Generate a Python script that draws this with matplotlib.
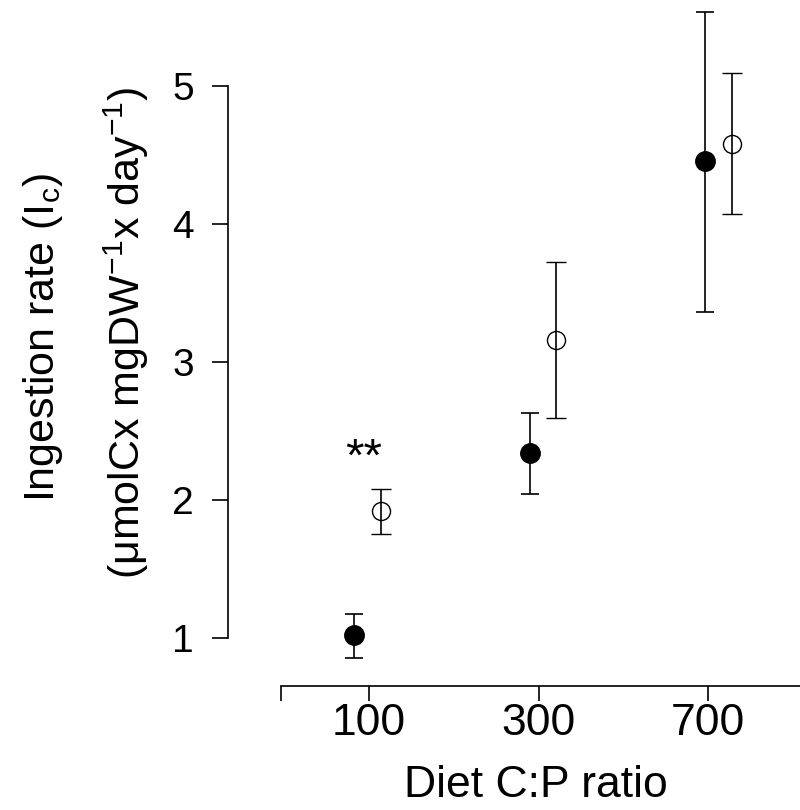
import matplotlib
matplotlib.use('Agg')
from matplotlib import pyplot as plt

plt.rcParams['font.family'] = ['Liberation Sans', 'DejaVu Sans']
plt.rcParams['mathtext.fontset'] = 'custom'
plt.rcParams['mathtext.rm'] = 'Liberation Sans'
plt.rcParams['mathtext.it'] = 'Liberation Sans'

diets = ['100', '300', '700']
# x positions of the two treatments around each diet
x_filled = [0.91, 1.95, 2.98]
x_open = [1.07, 2.10, 3.14]
y_filled = [1.02, 2.34, 4.45]
lo_filled = [0.85, 2.04, 3.36]
hi_filled = [1.17, 2.63, 5.53]
y_open = [1.92, 3.16, 4.58]
lo_open = [1.75, 2.59, 4.07]
hi_open = [2.08, 3.72, 5.09]

fig = plt.figure(figsize=(8, 8.1), dpi=100)
ax = fig.add_axes([228/800, 124/810, 1 - 228/800, 686/810])

err_f = [[y - l for y, l in zip(y_filled, lo_filled)], [h - y for y, h in zip(y_filled, hi_filled)]]
err_o = [[y - l for y, l in zip(y_open, lo_open)], [h - y for y, h in zip(y_open, hi_open)]]

ax.errorbar(x_filled, y_filled, yerr=err_f, fmt='o', color='black', ms=14,
            ecolor='black', elinewidth=1.2, capsize=6.5, capthick=1.2)
ax.errorbar(x_open, y_open, yerr=err_o, fmt='o', color='black', ms=13, mfc='none',
            mew=1.0, ecolor='black', elinewidth=1.2, capsize=7, capthick=1.2)

ax.text(0.97, 2.30, '**', ha='center', va='center', fontsize=34)

ax.set_xlim(0.17, 3.54)
ax.set_ylim(0.65, 5.62)

for s in ['top', 'right']:
    ax.spines[s].set_visible(False)
ax.spines['left'].set_bounds(1, 5)
ax.spines['bottom'].set_bounds(0.48, 3.6)
ax.spines['left'].set_linewidth(1.2)
ax.spines['bottom'].set_linewidth(1.2)

ax.set_xticks([0.48, 1, 2, 3])
ax.set_xticklabels([''] + diets)
ax.set_yticks([1, 2, 3, 4, 5])
ax.set_yticklabels(['1', '2', '3', '4', '5'])
ax.tick_params(axis='x', labelsize=32, length=11, width=1.2, pad=1)
ax.tick_params(axis='y', labelsize=28, length=11.5, width=1.2, pad=13)

ax.set_xlabel('Diet C:P ratio', fontsize=32)
ax.xaxis.set_label_coords(0.538, -0.115)

fig.text(43/800, 1 - 337/810, r'Ingestion rate (I$_\mathrm{c}$)', rotation=90,
         ha='center', va='center', fontsize=31)
fig.text(126/800, 1 - 333/810, r'(μmolCx mgDW$^{-1}$x day$^{-1}$)', rotation=90,
         ha='center', va='center', fontsize=31)

plt.savefig('out.png', dpi=100)
